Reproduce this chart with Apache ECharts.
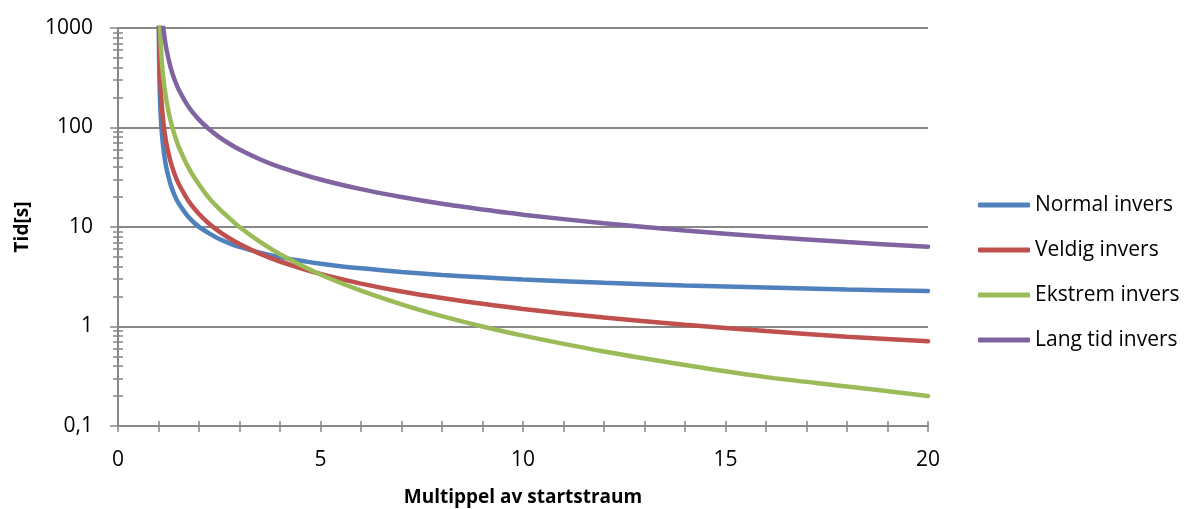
<!DOCTYPE html>
<html>
<head>
<meta charset="utf-8">
<script src="https://cdn.jsdelivr.net/npm/echarts@6/dist/echarts.min.js"></script>
<style>
  html, body { margin: 0; padding: 0; background: #fff; }
  #chart { width: 1192px; height: 509px; }
</style>
</head>
<body>
<div id="chart"></div>
<script>
// Multiples of pickup current (x) shared by every curve
const multiples = [1.005, 1.01, 1.02, 1.03, 1.04, 1.05, 1.07, 1.1, 1.12, 1.15, 1.2, 1.3, 1.4, 1.5, 1.75, 2, 2.25, 2.5, 2.75, 3, 3.5, 4, 5, 6, 7, 8, 9, 10, 12, 14, 16, 18, 20];

// Trip time in seconds for each characteristic
const normalInvers  = [1400, 703, 353, 237, 178, 143, 103, 73.4, 62.6, 50.0, 38.3, 26.6, 20.7, 17.2, 12.44, 10.03, 8.63, 7.57, 6.86, 6.30, 5.52, 4.98, 4.28, 3.84, 3.53, 3.30, 3.12, 2.97, 2.75, 2.58, 2.46, 2.35, 2.27];
const veldigInvers  = [2700, 1350, 675, 450, 338, 270, 193, 135, 113, 90, 67.5, 45, 33.75, 27, 18, 13.5, 10.8, 9, 7.71, 6.75, 5.4, 4.5, 3.375, 2.7, 2.25, 1.93, 1.69, 1.5, 1.23, 1.04, 0.9, 0.79, 0.71];
const ekstremInvers = [7980, 3980, 1980, 1314, 980, 780, 551, 381, 314, 248, 182, 116, 83.3, 64, 38.8, 26.7, 19.5, 15.2, 12.3, 10, 7.11, 5.33, 3.33, 2.29, 1.67, 1.27, 1.0, 0.81, 0.56, 0.41, 0.31, 0.25, 0.20];
const langTidInvers = [24000, 12000, 6000, 4000, 3000, 2400, 1714, 1200, 1000, 800, 600, 400, 300, 240, 160, 120, 96, 80, 68.6, 60, 48, 40, 30, 24, 20, 17.1, 15, 13.3, 10.9, 9.23, 8, 7.06, 6.32];

const seriesNames = ['Normal invers', 'Veldig invers', 'Ekstrem invers', 'Lang tid invers'];
const seriesValues = [normalInvers, veldigInvers, ekstremInvers, langTidInvers];
const colors = ['#4F81BD', '#C0504D', '#9BBB59', '#8064A2'];

// Decade ticks and the 2..9 subdivisions of the log axis
const yMajorTicks = [0.1, 1, 10, 100, 1000];
const yMinorTicks = [];
[0.1, 1, 10, 100].forEach(d => { for (let k = 2; k <= 9; k++) yMinorTicks.push(+(d * k).toPrecision(3)); });

const FONT = '"Open Sans", Lato, sans-serif';
const GRAY = '#878787';

const chart = echarts.init(document.getElementById('chart'), null, { renderer: 'canvas' });

const xBase = { type: 'value', min: 0, max: 20, interval: 1, gridIndex: 0, position: 'bottom' };
const yBase = { type: 'log', logBase: 10, min: 0.1, max: 1000, gridIndex: 0, position: 'left' };

chart.setOption({
  animation: false,
  textStyle: { fontFamily: FONT },
  color: colors,
  grid: { left: 118, right: 264, top: 28, bottom: 83, containLabel: false, outerBoundsMode: 'none' },
  legend: {
    orient: 'vertical',
    left: 973,
    top: 188,
    itemWidth: 52,
    itemHeight: 5,
    itemGap: 21,
    icon: 'roundRect',
    textStyle: { fontFamily: FONT, fontSize: 21, color: '#000', lineHeight: 24 },
    data: seriesNames
  },
  xAxis: [
    Object.assign({}, xBase, {
      name: 'Multippel av startstraum',
      nameLocation: 'middle',
      nameGap: 62,
      nameTextStyle: { fontFamily: FONT, fontSize: 19, fontWeight: 'bold', color: '#000' },
      axisLine: { show: true, lineStyle: { color: GRAY, width: 2 } },
      axisTick: { show: true, inside: false, length: 6, lineStyle: { color: GRAY, width: 1.5 } },
      axisLabel: {
        margin: 24,
        fontFamily: FONT, fontSize: 21, color: '#000',
        formatter: v => (v % 5 === 0 ? String(v) : '')
      },
      splitLine: { show: false }
    }),
    Object.assign({}, xBase, {
      axisLine: { show: false },
      axisTick: { show: true, inside: true, length: 5, lineStyle: { color: GRAY, width: 1.5 } },
      axisLabel: { show: false },
      splitLine: { show: false }
    })
  ],
  yAxis: [
    Object.assign({}, yBase, {
      name: 'Tid[s]',
      nameLocation: 'middle',
      nameGap: 86,
      nameTextStyle: { fontFamily: FONT, fontSize: 19, fontWeight: 'bold', color: '#000' },
      axisLine: { show: true, lineStyle: { color: GRAY, width: 2 } },
      axisTick: { show: true, inside: false, length: 8, lineStyle: { color: GRAY, width: 1.5 } },
      axisLabel: {
        margin: 25,
        fontFamily: FONT, fontSize: 21, color: '#000',
        formatter: v => String(+v.toPrecision(3)).replace('.', ',')
      },
      splitLine: { show: true, lineStyle: { color: GRAY, width: 2 } }
    }),
    Object.assign({}, yBase, {
      axisLine: { show: false },
      axisTick: { show: true, inside: false, length: 5, customValues: yMinorTicks, lineStyle: { color: GRAY, width: 1.5 } },
      axisLabel: { show: false },
      splitLine: { show: false }
    }),
    Object.assign({}, yBase, {
      axisLine: { show: false },
      axisTick: { show: true, inside: true, length: 5, customValues: yMinorTicks.concat(yMajorTicks), lineStyle: { color: GRAY, width: 1.5 } },
      axisLabel: { show: false },
      splitLine: { show: false }
    })
  ],
  series: seriesNames.map((name, i) => ({
    name: name,
    type: 'line',
    xAxisIndex: 0,
    yAxisIndex: 0,
    data: multiples.map((m, j) => [m, seriesValues[i][j]]),
    showSymbol: false,
    symbol: 'none',
    smooth: 0.3,
    clip: true,
    lineStyle: { width: 4.5, color: colors[i], cap: 'round' },
    itemStyle: { color: colors[i] }
  }))
});
</script>
</body>
</html>
